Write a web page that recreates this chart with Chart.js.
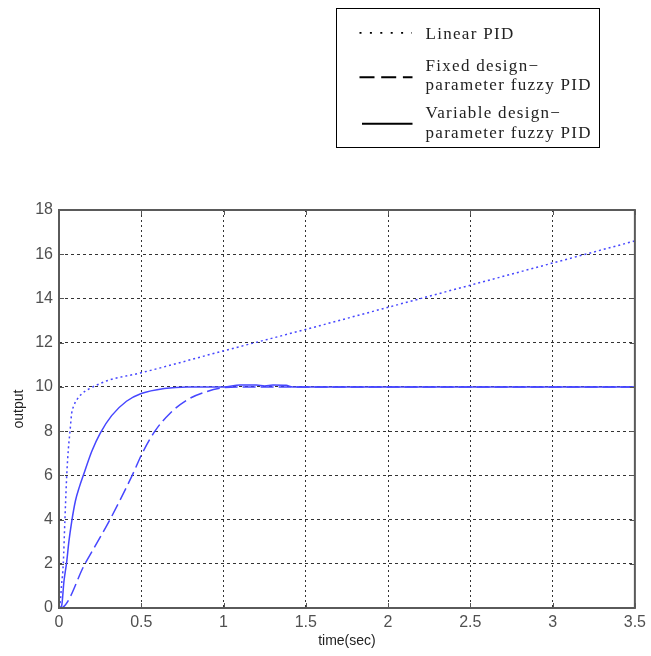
<!DOCTYPE html>
<html>
<head>
<meta charset="utf-8">
<script src="https://cdn.jsdelivr.net/npm/chart.js@4/dist/chart.umd.min.js"></script>
<style>
  html, body { margin: 0; padding: 0; background: #fff; }
  #wrap { position: relative; width: 651px; height: 656px; }
  #legend {
    position: absolute; left: 336px; top: 8px; width: 264px; height: 140px;
    border: 1.5px solid #000; box-sizing: border-box;
    font-family: "Liberation Serif", "DejaVu Serif", serif; font-size: 17px; color: #222;
  }
  #legend svg { position: absolute; left: 0; top: 0; }
  .txt { position: absolute; left: 88.5px; white-space: nowrap; line-height: 20px; letter-spacing: 1.3px; }
</style>
</head>
<body>
<div id="wrap">
  <canvas id="chart" width="651" height="656"></canvas>
  <div id="legend">
    <svg width="260" height="136">
      <line x1="22.5" y1="23.8" x2="75" y2="23.8" stroke="#000" stroke-width="1.8" stroke-dasharray="2 8.4" />
      <line x1="22.5" y1="68.2" x2="75.5" y2="68.2" stroke="#000" stroke-width="2" stroke-dasharray="15 6.7" />
      <line x1="25" y1="114.8" x2="75.5" y2="114.8" stroke="#000" stroke-width="2" />
    </svg>
    <div class="txt" style="top:14.75px">Linear PID</div>
    <div class="txt" style="top:47px">Fixed design−</div>
    <div class="txt" style="top:65.75px">parameter fuzzy PID</div>
    <div class="txt" style="top:94px">Variable design−</div>
    <div class="txt" style="top:113.75px">parameter fuzzy PID</div>
  </div>
</div>
<script>
// valores
const linearT = [0, 0.008, 0.015, 0.026, 0.036, 0.047, 0.057, 0.067, 0.077, 0.09, 0.107, 0.14, 0.188, 0.25, 0.3, 0.5, 1, 1.5, 2, 2.5, 3, 3.5];
const linearY = [0, 0.3, 1, 2, 4, 6, 7.2, 8, 8.8, 9.15, 9.4, 9.7, 9.93, 10.15, 10.3, 10.64, 11.63, 12.6, 13.6, 14.6, 15.6, 16.6];

const fixedT = [0, 0.01, 0.158, 0.31, 0.445, 0.506, 0.583, 0.674, 0.776, 0.887, 0.99, 1.1, 2, 3, 3.5];
const fixedY = [0, 0, 2, 4, 6, 7, 8, 8.8, 9.4, 9.76, 9.95, 10, 10, 10, 10];

const variableT = [0, 0.016, 0.03, 0.047, 0.06, 0.077, 0.1, 0.125, 0.148, 0.2, 0.25, 0.32, 0.41, 0.5, 0.64, 0.78, 1.0, 1.1, 1.2, 1.25, 1.3, 1.38, 1.42, 2, 3, 3.5];
const variableY = [0, 0.1, 1.2, 2.1, 3.0, 3.9, 4.85, 5.5, 6.0, 7.1, 7.9, 8.7, 9.35, 9.7, 9.93, 10.0, 10.0, 10.08, 10.08, 10.04, 10.08, 10.07, 10.0, 10.0, 10.0, 10.0];

const xTicks = [0, 0.5, 1, 1.5, 2, 2.5, 3, 3.5];
const yTicks = [0, 2, 4, 6, 8, 10, 12, 14, 16, 18];

const lineColor = "#4646ff";
const tickFont = { family: "Liberation Sans, Arial, sans-serif", size: 16 };
const titleFont = { family: "Liberation Sans, Arial, sans-serif", size: 14 };

function toPoints(ts, ys) {
  return ts.map((t, i) => ({ x: t, y: ys[i] }));
}

// moldura + marcas internas (estilo matlab)
const framePlugin = {
  id: "frame",
  afterDraw(chart) {
    const { ctx, chartArea: a, scales } = chart;
    ctx.save();
    ctx.setLineDash([]);
    ctx.strokeStyle = "#555";
    ctx.lineWidth = 1;
    ctx.beginPath();
    for (const v of yTicks) {
      const py = Math.round(scales.y.getPixelForValue(v)) + 0.5;
      ctx.moveTo(a.left, py);
      ctx.lineTo(a.left + 5, py);
      ctx.moveTo(a.right, py);
      ctx.lineTo(a.right - 5, py);
    }
    for (const v of xTicks) {
      const px = Math.round(scales.x.getPixelForValue(v)) + 0.5;
      ctx.moveTo(px, a.bottom);
      ctx.lineTo(px, a.bottom - 5);
      ctx.moveTo(px, a.top);
      ctx.lineTo(px, a.top + 5);
    }
    ctx.stroke();
    ctx.lineWidth = 2;
    ctx.strokeStyle = "#5a5a5a";
    ctx.strokeRect(a.left, a.top, a.right - a.left, a.bottom - a.top);
    ctx.restore();
  },
};

new Chart(document.getElementById("chart"), {
  type: "line",
  data: {
    datasets: [
      {
        label: "Linear PID",
        data: toPoints(linearT, linearY),
        borderColor: lineColor,
        borderWidth: 1.5,
        borderDash: [2, 3],
      },
      {
        label: "Fixed design-parameter fuzzy PID",
        data: toPoints(fixedT, fixedY),
        borderColor: lineColor,
        borderWidth: 1.5,
        borderDash: [13, 5],
      },
      {
        label: "Variable design-parameter fuzzy PID",
        data: toPoints(variableT, variableY),
        borderColor: lineColor,
        borderWidth: 1.5,
      },
    ],
  },
  options: {
    responsive: false,
    animation: false,
    elements: {
      point: { radius: 0 },
      line: { cubicInterpolationMode: "monotone", fill: false },
    },
    layout: { padding: { left: 0, right: 16, top: 210, bottom: 0 } },
    plugins: { legend: { display: false }, tooltip: { enabled: false } },
    scales: {
      x: {
        type: "linear",
        min: 0,
        max: 3.5,
        afterBuildTicks: (scale) => {
          scale.ticks = xTicks.map((v) => ({ value: v }));
        },
        afterFit: (scale) => {
          scale.height = 48;
        },
        grid: { color: "#333", lineWidth: 1, drawTicks: false },
        border: { display: false, dash: [2, 3] },
        ticks: {
          padding: 5,
          color: "#505050",
          font: tickFont,
          callback: (v) => String(v),
        },
        title: {
          display: true,
          text: "time(sec)",
          color: "#222",
          padding: { top: 0, bottom: 6 },
          font: titleFont,
        },
      },
      y: {
        min: 0,
        max: 18,
        afterBuildTicks: (scale) => {
          scale.ticks = yTicks.map((v) => ({ value: v }));
        },
        afterFit: (scale) => {
          scale.width = 59;
        },
        grid: { color: "#333", lineWidth: 1, drawTicks: false },
        border: { display: false, dash: [3, 3] },
        ticks: {
          padding: 6,
          color: "#505050",
          font: tickFont,
        },
        title: {
          display: true,
          text: "output",
          color: "#222",
          padding: { top: 11, bottom: 0 },
          font: titleFont,
        },
      },
    },
  },
  plugins: [framePlugin],
});
</script>
</body>
</html>
